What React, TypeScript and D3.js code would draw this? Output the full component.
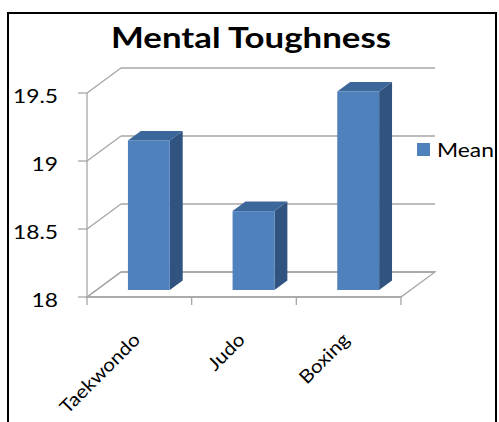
import React from "react";
import * as d3 from "d3";

const categories = ["Taekwondo", "Judo", "Boxing"];
const meanValues = [19.1, 18.58, 19.46];
const yTicks = [18, 18.5, 19, 19.5];
const seriesName = "Mean";
const chartTitle = "Mental Toughness";

const W = 499;
const H = 422;
const DX = 34; // depth offset
const DY = -25;
const FONT = "Lato, 'Open Sans', sans-serif";
const SX = 1.2; // reference text is drawn wide

export default function App() {
  const x = d3.scaleBand().domain(categories).range([87, 401]);
  const y = d3.scaleLinear().domain([18, 19.5]).range([297, 93]);
  const proj = (px: number, py: number, d: number): [number, number] => [px + d * DX, py + d * DY];

  const x0 = 87;
  const x1 = 401;
  const y0 = y(18);

  const barW = x.bandwidth() * 0.4;
  const dFront = 0.28;
  const dBack = 0.66;

  const floor = [proj(x0, y0, 0), proj(x1, y0, 0), proj(x1, y0, 1), proj(x0, y0, 1)];

  return (
    <svg width={W} height={H} style={{ position: "absolute", left: 0, top: 0, background: "#fff" }}>
      <rect x={8} y={13} width={488} height={420} fill="#fff" stroke="#000" strokeWidth={2} />
      <text transform={`translate(251,48) scale(${SX},1)`} textAnchor="middle" fontFamily={FONT} fontWeight="bold" fontSize={29} fill="#000">
        {chartTitle}
      </text>

      {/* floor */}
      <polygon points={floor.map((p) => p.join(",")).join(" ")} fill="none" stroke="#a6a6a6" strokeWidth={1.3} />

      {/* walls gridlines */}
      {yTicks.map((t) => {
        const [bx0, by] = proj(x0, y(t), 1);
        const [bx1] = proj(x1, y(t), 1);
        return (
          <g key={t}>
            <line x1={x0} y1={y(t)} x2={bx0} y2={by} stroke="#a6a6a6" strokeWidth={1.3} />
            <line x1={bx0} y1={by} x2={bx1} y2={by} stroke="#a6a6a6" strokeWidth={1.3} />
            <line x1={x0 - 9} y1={y(t)} x2={x0} y2={y(t)} stroke="#a6a6a6" strokeWidth={1.3} />
            <text transform={`translate(58,${y(t) + 2}) scale(${SX},1)`} textAnchor="end" dominantBaseline="central" fontFamily={FONT} fontSize={19} fill="#000">
              {String(t)}
            </text>
          </g>
        );
      })}
      <line x1={x0} y1={y(19.5)} x2={x0} y2={y0} stroke="#a6a6a6" strokeWidth={1.3} />
      <line x1={x0} y1={y0} x2={x1} y2={y0} stroke="#a6a6a6" strokeWidth={1.3} />
      {[...categories.map((c) => x(c) as number), x1].map((tx, i) => (
        <line key={i} x1={tx} y1={y0} x2={tx} y2={y0 + 8} stroke="#a6a6a6" strokeWidth={1.3} />
      ))}

      {/* bars */}
      {categories.map((c, i) => {
        const cx = (x(c) as number) + x.bandwidth() / 2;
        const [fx, fy0] = proj(cx - barW / 2, y0, dFront);
        const [, fy1] = proj(cx, y(meanValues[i]), dFront);
        const dd = dBack - dFront;
        const ox = dd * DX;
        const oy = dd * DY;
        const side = [[fx + barW, fy1], [fx + barW + ox, fy1 + oy], [fx + barW + ox, fy0 + oy], [fx + barW, fy0]];
        const top = [[fx, fy1], [fx + ox, fy1 + oy], [fx + barW + ox, fy1 + oy], [fx + barW, fy1]];
        return (
          <g key={c}>
            <polygon points={side.map((p) => p.join(",")).join(" ")} fill="#31537f" />
            <polygon points={top.map((p) => p.join(",")).join(" ")} fill="#3c679b" />
            <rect x={fx} y={fy1} width={barW} height={fy0 - fy1} fill="#4f81bd" />
          </g>
        );
      })}

      {/* x labels */}
      {categories.map((c) => {
        const cx = (x(c) as number) + x.bandwidth() / 2;
        return (
          <text
            key={c}
            transform={`translate(${cx + 2},${341}) rotate(-45) scale(1.12,1)`}
            textAnchor="end"
            fontFamily={FONT}
            fontSize={18.5}
            fill="#000"
          >
            {c}
          </text>
        );
      })}

      {/* legend */}
      <rect x={417} y={143} width={13} height={13} fill="#4f81bd" />
      <text transform={`translate(437,157) scale(${SX},1)`} fontFamily={FONT} fontSize={19} fill="#000">
        {seriesName}
      </text>
    </svg>
  );
}
